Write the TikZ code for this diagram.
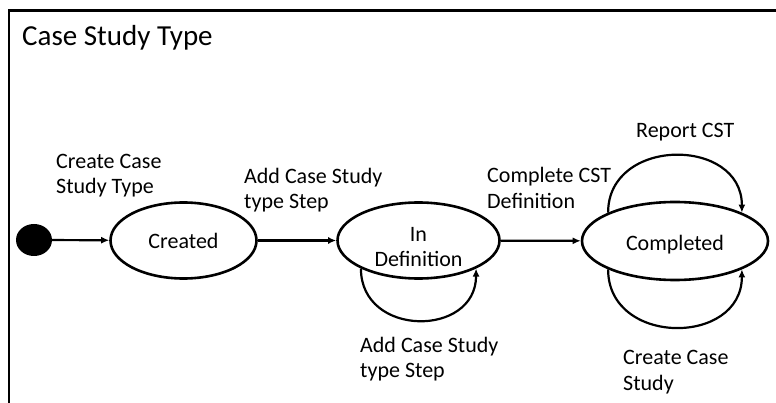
\documentclass[tikz,border=0pt]{standalone}
\usepackage{fontspec}
\setmainfont{Carlito}
\usetikzlibrary{shapes.geometric,arrows.meta}
\newcommand{\upstrut}[1]{\rule{0pt}{#1}}
\begin{document}
\begin{tikzpicture}[x=1pt,y=-1pt,
  state/.style={ellipse,draw,line width=2.6pt,inner sep=0pt,align=center,
    font=\fontsize{22}{25}\selectfont},
  tr/.style={line width=2.2pt,-{Latex[length=8pt,width=7pt]}},
  lbl/.style={anchor=base west,inner sep=0pt,align=left,
    font=\fontsize{22}{25.5}\selectfont},
  frame/.style={line width=2.8pt}]
\useasboundingbox (0,0) rectangle (776,403);
\coordinate (ftl) at (9,10.5);
\coordinate (ftr) at (776,10.5);
\coordinate (fbl) at (9,403);
\draw[frame] (ftr) -- (ftl) -- (fbl);
\node[anchor=base west,inner sep=0pt,font=\fontsize{29}{35}\selectfont] (title) at (22,46) {Case Study Type};

\node[ellipse,fill=black,minimum width=36pt,minimum height=32pt,inner sep=0pt] (init) at (34,240) {};
\node[state,minimum width=146pt,minimum height=76pt] (created) at (183.5,240.5) {Created};
\node[state,minimum width=162pt,minimum height=76pt] (indef) at (418.5,240.5) {\upstrut{27pt}In\\Definition};
\node[state,minimum width=186pt,minimum height=78pt] (comp) at (675,241) {\upstrut{22pt}Completed};

\draw[tr] (init) -- (created);
\draw[tr] (created) -- (indef);
\draw[tr] (indef) -- (comp);
\draw[tr] (indef.206) .. controls +(0,69) and +(0,69) .. (indef.334);
\draw[tr] (comp.157) .. controls +(0,-76) and +(0,-76) .. (comp.23);
\draw[tr] (comp.203) .. controls +(0,77) and +(0,77) .. (comp.337);

\node[lbl] (l1) at (56,194) {Create Case\\Study Type};
\node[lbl] (l2) at (244,209) {Add Case Study\\type Step};
\node[lbl] (l3) at (487,208.5) {Complete CST\\Definition};
\node[lbl] (l4) at (636,138) {Report CST};
\node[lbl] (l5) at (360,377.5) {Add Case Study\\type Step};
\node[lbl] (l6) at (623,390) {Create Case\\Study};
\end{tikzpicture}
\end{document}
